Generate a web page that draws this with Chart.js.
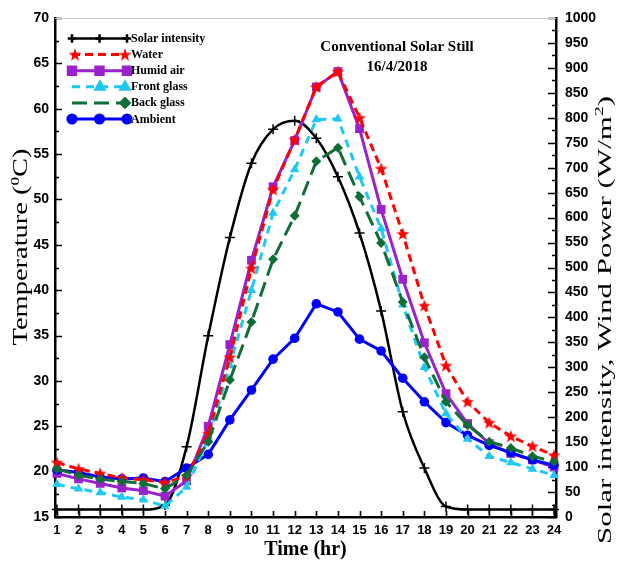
<!DOCTYPE html>
<html><head><meta charset="utf-8">
<script src="https://cdn.jsdelivr.net/npm/chart.js@4.4.0/dist/chart.umd.min.js"></script>
<style>html,body{margin:0;padding:0;background:#fff;}#wrap{width:619px;height:565px;}</style>
</head><body><div id="wrap"><canvas id="c" width="619" height="565"></canvas></div>
<script>
const hours = [1,2,3,4,5,6,7,8,9,10,11,12,13,14,15,16,17,18,19,20,21,22,23,24];
const solarIntensity = [15,15,15,15,15,24,141,363,560,709,777,794,759,682,569,413,211,98,21,15,15,15,15,15];
const water = [21.0,20.3,19.8,19.3,19.1,18.8,19.5,24.2,32.6,42.4,51.1,56.6,62.4,64.1,59.0,53.4,46.2,38.3,31.7,27.7,25.4,23.9,22.8,21.8];
const humidAir = [19.8,19.2,18.7,18.2,17.9,17.3,19.0,25.0,34.0,43.3,51.4,56.5,62.4,64.1,57.8,48.9,41.2,34.2,28.6,25.3,23.1,22.0,21.3,20.5];
const frontGlass = [18.6,18.1,17.7,17.2,16.9,16.2,18.3,23.6,31.7,40.0,48.5,53.3,58.8,58.9,52.5,46.8,38.4,31.5,26.4,23.6,21.7,21.0,20.3,19.6];
const backGlass = [20.3,19.6,19.2,18.9,18.7,18.1,19.6,23.3,30.1,36.5,43.4,48.2,54.2,55.7,50.3,45.2,38.7,32.6,27.7,25.1,23.3,22.6,21.7,21.1];
const ambient = [20.2,19.9,19.4,19.2,19.3,18.9,20.4,21.9,25.7,29.0,32.4,34.7,38.5,37.6,34.6,33.3,30.3,27.7,25.4,24.0,22.9,22.1,21.3,20.7];
const seriesNames = ['Solar intensity','Water','Humid air','Front glass','Back glass','Ambient'];
const tempTicks = [15,20,25,30,35,40,45,50,55,60,65,70];
const powerTicks = [0,50,100,150,200,250,300,350,400,450,500,550,600,650,700,750,800,850,900,950,1000];
const chartTitle = ['Conventional Solar Still','16/4/2018'];

// filled star marker
const starImg = document.createElement('canvas');
starImg.width = 14; starImg.height = 14;
(function(){
  const g = starImg.getContext('2d');
  g.fillStyle = '#ff0000';
  g.beginPath();
  for (let i = 0; i < 10; i++) {
    const r = i % 2 === 0 ? 6.8 : 2.8;
    const a = -Math.PI/2 + i*Math.PI/5;
    const x = 7 + r*Math.cos(a), y = 7.5 + r*Math.sin(a);
    if (i === 0) g.moveTo(x,y); else g.lineTo(x,y);
  }
  g.closePath(); g.fill();
})();

const pts = arr => hours.map((h,i)=>({x:h, y:arr[i]}));

const datasets = [
  {label:seriesNames[0], data:pts(solarIntensity), yAxisID:'y2', borderColor:'#000', backgroundColor:'#000',
   borderWidth:2.5, pointStyle:'cross', pointRadius:5, pointBorderWidth:1.5, cubicInterpolationMode:'monotone', order:5},
  {label:seriesNames[1], data:pts(water), yAxisID:'y', borderColor:'#ff0000', backgroundColor:'#ff0000',
   borderWidth:3, borderDash:[8,5], pointStyle:starImg, pointRadius:6, order:1},
  {label:seriesNames[2], data:pts(humidAir), yAxisID:'y', borderColor:'#9922cc', backgroundColor:'#9922cc',
   borderWidth:3, pointStyle:'rect', pointRadius:6.2, pointBorderWidth:0, order:4},
  {label:seriesNames[3], data:pts(frontGlass), yAxisID:'y', borderColor:'#1ec8f0', backgroundColor:'#1ec8f0',
   borderWidth:3, borderDash:[8,6], pointStyle:'triangle', pointRadius:5.5, pointBorderWidth:0, order:2},
  {label:seriesNames[4], data:pts(backGlass), yAxisID:'y', borderColor:'#0f6e38', backgroundColor:'#0f6e38',
   borderWidth:3, borderDash:[15,7], pointStyle:'rectRot', pointRadius:5, pointBorderWidth:0, order:0},
  {label:seriesNames[5], data:pts(ambient), yAxisID:'y', borderColor:'#0000ff', backgroundColor:'#0000ff',
   borderWidth:3, pointStyle:'circle', pointRadius:4.8, pointBorderWidth:0, order:3}
];
datasets.forEach(d=>{ d.clip = false; d.tension = d.cubicInterpolationMode ? undefined : 0; d.fill=false; });

function drawVText(ctx, parts, cx, cy, targetLen, size, weight) {
  ctx.save();
  const fBig = weight + ' ' + size + 'px "Liberation Serif", "Times New Roman", serif';
  const fSmall = weight + ' ' + Math.round(size*0.62) + 'px "Liberation Serif", "Times New Roman", serif';
  let total = 0;
  const widths = parts.map(p=>{ ctx.font = p.sup ? fSmall : fBig; const w = ctx.measureText(p.t).width; total += w; return w; });
  const s = targetLen / total;
  ctx.translate(cx, cy);
  ctx.rotate(-Math.PI/2);
  ctx.scale(s, 1);
  ctx.fillStyle = '#000';
  ctx.textBaseline = 'middle';
  ctx.textAlign = 'left';
  let x = -total/2;
  parts.forEach((p,i)=>{
    ctx.font = p.sup ? fSmall : fBig;
    ctx.fillText(p.t, x, p.sup ? -size*0.32 : 0);
    x += widths[i];
  });
  ctx.restore();
}

const decor = {
  id:'decor',
  beforeDatasetsDraw(chart){
    const {ctx, chartArea:a, scales} = chart;
    ctx.save();
    ctx.strokeStyle = '#000'; ctx.lineWidth = 1.6;
    ctx.beginPath();
    for (let v = 15; v <= 70.001; v += 2.5) {
      const y = Math.round(scales.y.getPixelForValue(v)) + 0.5;
      const L = (Math.abs(v/5 - Math.round(v/5)) < 1e-6) ? 7 : 4;
      ctx.moveTo(a.left, y); ctx.lineTo(a.left + L, y);
    }
    for (let v = 0; v <= 1000; v += 25) {
      const y = Math.round(scales.y2.getPixelForValue(v)) + 0.5;
      const L = (v % 50 === 0) ? 8 : 4;
      ctx.moveTo(a.right, y); ctx.lineTo(a.right - L, y);
    }
    hours.forEach(h=>{
      const x = Math.round(scales.x.getPixelForValue(h)) + 0.5;
      ctx.moveTo(x, a.bottom); ctx.lineTo(x, a.bottom - 6);
    });
    ctx.stroke();
    ctx.strokeStyle = '#c8c8c8'; ctx.lineWidth = 1;
    ctx.beginPath(); ctx.moveTo(a.left, a.top + 0.5); ctx.lineTo(a.right, a.top + 0.5); ctx.stroke();
    ctx.restore();
  },
  afterDraw(chart){
    const {ctx} = chart;
    ctx.save();
    ctx.fillStyle = '#000';
    ctx.textAlign = 'center'; ctx.textBaseline = 'middle';
    ctx.font = 'bold 15px "Liberation Serif", "Times New Roman", serif';
    ctx.fillText(chartTitle[0], 397, 47);
    ctx.fillText(chartTitle[1], 397, 67);
    const legendOrder = [0,1,2,3,4,5];
    legendOrder.forEach((di, k)=>{
      const ds = chart.data.datasets[di];
      const y = 38.5 + k*16.1;
      const x0 = 72, x1 = 127;
      ctx.save();
      ctx.strokeStyle = ds.borderColor; ctx.lineWidth = ds.borderWidth;
      ctx.setLineDash(ds.borderDash || []);
      ctx.beginPath(); ctx.moveTo(x0, y); ctx.lineTo(x1, y); ctx.stroke();
      ctx.setLineDash([]);
      ctx.fillStyle = ds.backgroundColor; ctx.strokeStyle = ds.borderColor;
      const markX = di === 1 ? [75, 125] : (di === 3 ? [100,125] : (di === 4 ? [125] : [x0, 99.5, x1]));
      markX.forEach(mx=>{
        Chart.helpers.drawPoint(ctx, {pointStyle: ds.pointStyle, radius: ds.pointRadius*0.85, borderWidth: ds.pointBorderWidth || 1.5, rotation:0}, mx, y);
      });
      ctx.restore();
      ctx.fillStyle = '#000';
      ctx.textAlign = 'left'; ctx.textBaseline = 'middle';
      ctx.font = 'bold 12px "Liberation Serif", "Times New Roman", serif';
      ctx.fillText(ds.label, 131, y + 0.5);
    });
    drawVText(ctx, [{t:'Temperature ('},{t:'0',sup:true},{t:'C)'}], 22, 247, 197, 20, 'normal');
    drawVText(ctx, [{t:'Solar intensity, Wind Power (W/m'},{t:'2',sup:true},{t:')'}], 606, 320, 448, 19, 'normal');
    ctx.restore();
  }
};

const tickFont = {family:'"Liberation Sans", Arial, sans-serif', weight:'bold', size:14};

new Chart(document.getElementById('c'), {
  type:'line',
  data:{datasets},
  options:{
    responsive:false, animation:false, devicePixelRatio:1,
    layout:{padding:{top:18, left:0, right:0, bottom:0}},
    plugins:{legend:{display:false}, tooltip:{enabled:false}, title:{display:false}},
    elements:{line:{tension:0}},
    scales:{
      x:{type:'linear', min:0.91, max:24.09,
         afterBuildTicks:s=>{ s.ticks = hours.map(v=>({value:v})); },
         afterFit:s=>{ s.height = 48; },
         ticks:{font:{...tickFont, size:13}, color:'#000', padding:6, maxRotation:0, autoSkip:false, callback:v=>String(v)},
         grid:{display:true, drawOnChartArea:false, drawTicks:false},
         border:{display:true, color:'#000', width:2.5},
         title:{display:true, text:'Time (hr)', color:'#000', font:{family:'"Liberation Serif", "Times New Roman", serif', weight:'bold', size:20}, padding:{top:0,bottom:3}}
      },
      y:{type:'linear', position:'left', min:15, max:70,
         afterBuildTicks:s=>{ s.ticks = tempTicks.map(v=>({value:v})); },
         afterFit:s=>{ s.width = 55; },
         ticks:{font:tickFont, color:'#000', padding:6, autoSkip:false, callback:v=>String(v)},
         grid:{display:true, drawOnChartArea:false, drawTicks:false},
         border:{display:true, color:'#000', width:2.5}
      },
      y2:{type:'linear', position:'right', min:0, max:1000,
         afterBuildTicks:s=>{ s.ticks = powerTicks.map(v=>({value:v})); },
         afterFit:s=>{ s.width = 63; },
         ticks:{font:tickFont, color:'#000', padding:9, autoSkip:false, callback:v=>String(v)},
         grid:{display:true, drawOnChartArea:false, drawTicks:false},
         border:{display:true, color:'#000', width:2.5}
      }
    }
  },
  plugins:[decor]
});
</script>
</body></html>
